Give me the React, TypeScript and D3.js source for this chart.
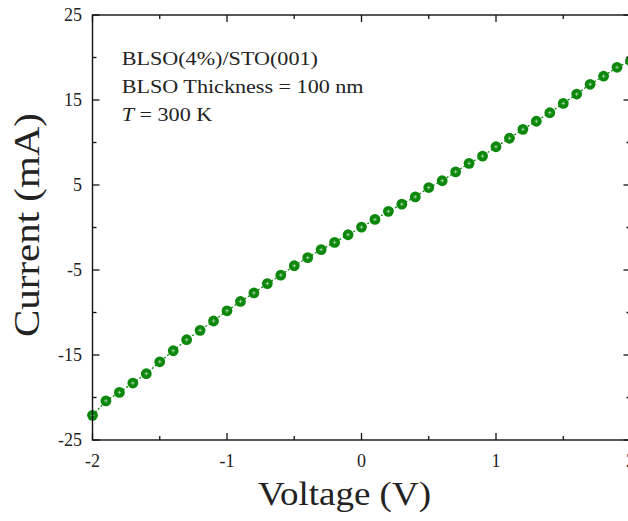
import React from "react";
import * as d3 from "d3";

const voltage = [
  -2.0, -1.9, -1.8, -1.7, -1.6, -1.5, -1.4, -1.3, -1.2, -1.1, -1.0,
  -0.9, -0.8, -0.7, -0.6, -0.5, -0.4, -0.3, -0.2, -0.1, 0.0,
  0.1, 0.2, 0.3, 0.4, 0.5, 0.6, 0.7, 0.8, 0.9, 1.0,
  1.1, 1.2, 1.3, 1.4, 1.5, 1.6, 1.7, 1.8, 1.9, 2.0,
];
const current = [
  -22.1, -20.4, -19.4, -18.3, -17.2, -15.8, -14.5, -13.2, -12.1, -11.0, -9.8,
  -8.7, -7.7, -6.6, -5.6, -4.5, -3.55, -2.6, -1.75, -0.85, 0.05,
  0.95, 1.9, 2.75, 3.6, 4.7, 5.5, 6.55, 7.55, 8.4, 9.5,
  10.5, 11.55, 12.5, 13.5, 14.6, 15.7, 16.85, 17.8, 18.85, 19.6,
];
const xMajorTicks = [-2, -1, 0, 1, 2];
const xMinorTicks = [-1.5, -0.5, 0.5, 1.5];
const yMajorTicks = [-25, -15, -5, 5, 15, 25];
const yMinorTicks = [-20, -10, 0, 10, 20];
const annotationLines = ["BLSO(4%)/STO(001)", "BLSO Thickness = 100 nm"];
const tempLabel = " = 300 K";

const FONT = "'Liberation Serif', 'Times New Roman', serif";

export default function App() {
  const W = 628;
  const H = 521;
  const x = d3.scaleLinear().domain([-2, 2]).range([92.5, 630.5]);
  const y = d3.scaleLinear().domain([-25, 25]).range([440, 15]);
  const pts = voltage.map((v, i) => [v, current[i]] as [number, number]);
  const line = d3
    .line<[number, number]>()
    .x((d) => x(d[0]))
    .y((d) => y(d[1]));
  const [x0, x1] = x.range();
  const [y0, y1] = y.range();
  const green = "#0d880d";
  const maj = 7;
  const min = 4;
  return (
    <svg
      width={W}
      height={H}
      style={{ position: "absolute", left: 0, top: 0, background: "#fff" }}
      fontFamily={FONT}
    >
      <rect x={0} y={0} width={W} height={H} fill="#fff" />
      <path
        d={line(pts) || ""}
        fill="none"
        stroke={green}
        strokeWidth={1.3}
        strokeDasharray="2,2"
      />
      {pts.map((p, i) => (
        <g key={i} transform={`translate(${x(p[0])},${y(p[1])})`}>
          <circle r={5.4} fill={green} />
          <path d="M-1.8,0H1.8M0,-1.8V1.8" stroke="#bfe8bf" strokeWidth={0.7} />
        </g>
      ))}
      <rect
        x={x0}
        y={y1}
        width={x1 - x0}
        height={y0 - y1}
        fill="none"
        stroke="#111"
        strokeWidth={1.4}
      />
      {xMajorTicks.map((t) => (
        <g key={"xm" + t}>
          <line x1={x(t)} x2={x(t)} y1={y0} y2={y0 - maj} stroke="#111" strokeWidth={1.3} />
          <line x1={x(t)} x2={x(t)} y1={y1} y2={y1 + maj} stroke="#111" strokeWidth={1.3} />
          <text x={x(t)} y={467} fontSize={18} textAnchor="middle" fill="#222">
            {t}
          </text>
        </g>
      ))}
      {xMinorTicks.map((t) => (
        <g key={"xn" + t}>
          <line x1={x(t)} x2={x(t)} y1={y0} y2={y0 - min} stroke="#111" strokeWidth={1.3} />
          <line x1={x(t)} x2={x(t)} y1={y1} y2={y1 + min} stroke="#111" strokeWidth={1.3} />
        </g>
      ))}
      {yMajorTicks.map((t) => (
        <g key={"ym" + t}>
          <line x1={x0} x2={x0 + maj} y1={y(t)} y2={y(t)} stroke="#111" strokeWidth={1.3} />
          <line x1={x1} x2={x1 - maj} y1={y(t)} y2={y(t)} stroke="#111" strokeWidth={1.3} />
          <text x={82} y={y(t) + 6} fontSize={18} textAnchor="end" fill="#222">
            {t}
          </text>
        </g>
      ))}
      {yMinorTicks.map((t) => (
        <g key={"yn" + t}>
          <line x1={x0} x2={x0 + min} y1={y(t)} y2={y(t)} stroke="#111" strokeWidth={1.3} />
          <line x1={x1} x2={x1 - min} y1={y(t)} y2={y(t)} stroke="#111" strokeWidth={1.3} />
        </g>
      ))}
      <text
        x={344.5}
        y={505}
        fontSize={33}
        textAnchor="middle"
        textLength={173}
        lengthAdjust="spacingAndGlyphs"
        fill="#222"
      >
        Voltage (V)
      </text>
      <text
        transform="translate(39,225) rotate(-90)"
        fontSize={35}
        textAnchor="middle"
        textLength={224}
        lengthAdjust="spacingAndGlyphs"
        fill="#222"
      >
        Current (mA)
      </text>
      <g transform="translate(121.7,0) scale(1.23,1)" fontSize={18} fill="#222">
        {annotationLines.map((s, i) => (
          <text key={i} x={0} y={65 + i * 28}>
            {s}
          </text>
        ))}
        <text x={0} y={121}>
          <tspan fontStyle="italic">T</tspan>
          {tempLabel}
        </text>
      </g>
    </svg>
  );
}
